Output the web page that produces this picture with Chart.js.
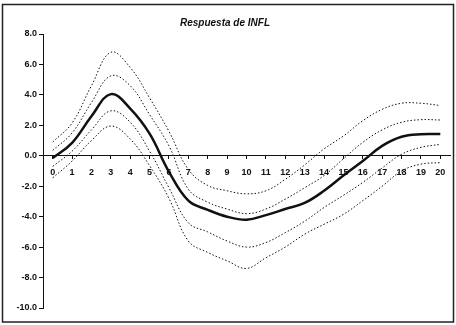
<!DOCTYPE html>
<html>
<head>
<meta charset="utf-8">
<script src="https://cdn.jsdelivr.net/npm/chart.js@4/dist/chart.umd.min.js"></script>
<style>
    html, body { margin: 0; padding: 0; background: #fff; }
    #wrap { width: 456px; height: 325px; position: relative; }
</style>
</head>
<body>
<div id="wrap"><canvas id="respuesta-chart"></canvas></div>
<script>
const horizons = ['0', '1', '2', '3', '4', '5', '6', '7', '8', '9', '10',
    '11', '12', '13', '14', '15', '16', '17', '18', '19', '20'];
const media = [-0.15, 0.85, 2.6, 4.05, 3.1, 1.45, -1.05, -2.95, -3.55, -4.0, -4.2,
    -3.9, -3.5, -3.1, -2.3, -1.3, -0.35, 0.65, 1.25, 1.42, 1.43];
const bandaSup1 = [0.35, 1.5, 3.5, 5.25, 4.6, 2.7, 0.65, -2.2, -3.05, -3.5, -3.8,
    -3.5, -2.85, -2.1, -1.3, -0.2, 0.88, 1.7, 2.2, 2.37, 2.35];
const bandaSup2 = [0.9, 2.15, 4.6, 6.8, 5.8, 3.8, 1.6, -0.9, -1.95, -2.3, -2.5,
    -2.3, -1.55, -0.6, 0.45, 1.3, 2.3, 3.05, 3.45, 3.45, 3.3];
const bandaInf1 = [-0.7, 0.3, 1.7, 2.95, 2.2, 0.3, -2.1, -4.4, -5.0, -5.6, -6.0,
    -5.7, -5.05, -4.3, -3.4, -2.6, -1.75, -0.8, 0.1, 0.55, 0.75];
const bandaInf2 = [-1.45, -0.35, 1.0, 1.95, 1.1, -0.65, -2.8, -5.6, -6.35, -6.9, -7.4,
    -6.7, -6.0, -5.15, -4.5, -3.85, -2.95, -2.0, -1.0, -0.55, -0.45];
const yTicks = [8, 6, 4, 2, 0, -2, -4, -6, -8, -10];

(function () {
    const canvas = document.getElementById('respuesta-chart');
    const ink = '#111';
    const font = { family: 'Arial, "Liberation Sans", sans-serif', size: 9, weight: 'bold' };

    const dotted = (data) => ({
        data,
        borderColor: ink,
        borderWidth: 1,
        borderDash: [1.5, 2],
        pointRadius: 0,
        tension: 0.4,
        fill: false,
    });

    // scanned frame around the whole figure
    const framePlugin = {
        id: 'frame',
        afterDraw(chart) {
            const ctx = chart.ctx;
            ctx.save();
            ctx.strokeStyle = '#222';
            ctx.lineWidth = 1.5;
            ctx.strokeRect(2.5, 4.5, 451, 317.5);
            ctx.restore();
        },
    };

    new Chart(canvas, {
        type: 'line',
        data: {
            labels: horizons,
            datasets: [
                dotted(bandaSup2),
                dotted(bandaSup1),
                {
                    data: media,
                    borderColor: ink,
                    borderWidth: 2.5,
                    pointRadius: 0,
                    tension: 0.4,
                    fill: false,
                },
                dotted(bandaInf1),
                dotted(bandaInf2),
            ],
        },
        options: {
            responsive: true,
            maintainAspectRatio: false,
            animation: false,
            layout: {
                padding: { top: 0, left: 0, right: 6, bottom: 17 },
            },
            plugins: {
                legend: { display: false },
                tooltip: { enabled: false },
                title: {
                    display: true,
                    text: 'Respuesta de INFL',
                    color: ink,
                    font: { family: font.family, size: 10, weight: 'bold', style: 'italic' },
                    padding: { top: 17, bottom: 5 },
                },
            },
            scales: {
                x: {
                    type: 'category',
                    position: { y: 0 },
                    offset: true,
                    border: { display: true, color: ink, width: 1 },
                    grid: {
                        offset: false,
                        drawOnChartArea: false,
                        drawTicks: true,
                        tickLength: 3,
                        color: ink,
                    },
                    ticks: {
                        color: ink,
                        font,
                        padding: 8,
                        maxRotation: 0,
                        autoSkip: false,
                    },
                },
                y: {
                    min: -10,
                    max: 8,
                    afterFit: (scale) => { scale.width = 43; },
                    afterBuildTicks: (scale) => {
                        scale.ticks = yTicks.map((value) => ({ value }));
                    },
                    border: { display: true, color: ink, width: 1 },
                    grid: {
                        drawOnChartArea: false,
                        drawTicks: true,
                        tickLength: 4,
                        color: ink,
                    },
                    ticks: {
                        color: ink,
                        font,
                        padding: 2,
                        callback: (value) => Number(value).toFixed(1),
                    },
                },
            },
        },
        plugins: [framePlugin],
    });
})();
</script>
</body>
</html>
